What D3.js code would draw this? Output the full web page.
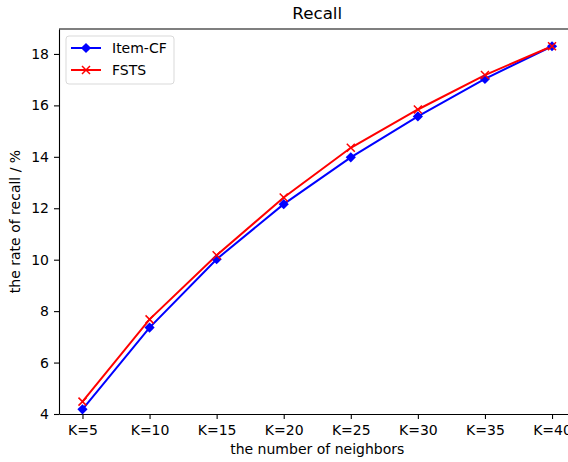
<!DOCTYPE html>
<html lang="en">
<head>
<meta charset="UTF-8">
<title>Recall</title>
<script src="https://d3js.org/d3.v7.min.js"></script>
<style>
  body { margin: 0; padding: 0; background: #fff; }
  svg { display: block; font-family: "DejaVu Sans", sans-serif; }
  .axis text { font-family: "DejaVu Sans", sans-serif; font-size: 14px; fill: #000; }
  .axis path, .axis line { stroke: #000; stroke-width: 1.1px; }
</style>
</head>
<body>
<div id="chart"></div>
<script>
// data
const kLabels = ["K=5", "K=10", "K=15", "K=20", "K=25", "K=30", "K=35", "K=40"];
const itemCF = [4.18, 7.36, 10.02, 12.16, 13.98, 15.57, 17.03, 18.3];
const fsts = [4.48, 7.68, 10.17, 12.42, 14.35, 15.84, 17.18, 18.3];
const yTicks = [4, 6, 8, 10, 12, 14, 16, 18];

const width = 568, height = 462;
const plotLeft = 59, plotTop = 29, plotRight = 575.5, plotBottom = 414;

const svg = d3.select("#chart").append("svg")
    .attr("width", width)
    .attr("height", height);

const x = d3.scalePoint()
    .domain(kLabels)
    .range([plotLeft, plotRight])
    .padding(0.35);

const y = d3.scaleLinear()
    .domain([4, 18.97])
    .range([plotBottom, plotTop]);

// axes
svg.append("g")
    .attr("class", "axis")
    .attr("transform", `translate(0,${plotBottom})`)
    .call(d3.axisBottom(x).tickSize(5).tickPadding(4).tickSizeOuter(0))
    .selectAll("text").attr("dy", "0.85em");

svg.append("g")
    .attr("class", "axis")
    .attr("transform", `translate(${plotLeft},0)`)
    .call(d3.axisLeft(y).tickValues(yTicks).tickSize(5).tickPadding(5).tickSizeOuter(0));

// top spine (right spine falls outside the picture)
svg.append("line")
    .attr("x1", plotLeft).attr("x2", plotRight)
    .attr("y1", plotTop).attr("y2", plotTop)
    .attr("stroke", "#000").attr("stroke-width", 1.1);

// lines
const line = d3.line()
    .x((d, i) => x(kLabels[i]))
    .y(d => y(d));

svg.append("path")
    .datum(itemCF)
    .attr("fill", "none")
    .attr("stroke", "#0000ff")
    .attr("stroke-width", 2)
    .attr("d", line);

svg.append("path")
    .datum(fsts)
    .attr("fill", "none")
    .attr("stroke", "#ff0000")
    .attr("stroke-width", 2)
    .attr("d", line);

const diamond = d3.symbol().type(d3.symbolSquare).size(52);
const cross = "M-4,-4L4,4M-4,4L4,-4";

svg.selectAll(".dia")
    .data(itemCF)
    .enter().append("path")
    .attr("class", "dia")
    .attr("d", diamond)
    .attr("fill", "#0000ff")
    .attr("transform", (d, i) => `translate(${x(kLabels[i])},${y(d)}) rotate(45)`);

svg.selectAll(".crs")
    .data(fsts)
    .enter().append("path")
    .attr("class", "crs")
    .attr("d", cross)
    .attr("stroke", "#ff0000")
    .attr("stroke-width", 1.5)
    .attr("fill", "none")
    .attr("transform", (d, i) => `translate(${x(kLabels[i])},${y(d)})`);

// title and labels
svg.append("text")
    .attr("x", (plotLeft + plotRight) / 2)
    .attr("y", 19)
    .attr("text-anchor", "middle")
    .attr("font-size", 16.7)
    .text("Recall");

svg.append("text")
    .attr("x", (plotLeft + plotRight) / 2)
    .attr("y", 454)
    .attr("text-anchor", "middle")
    .attr("font-size", 14)
    .text("the number of neighbors");

svg.append("text")
    .attr("transform", `translate(20,${(plotTop + plotBottom) / 2}) rotate(-90)`)
    .attr("text-anchor", "middle")
    .attr("font-size", 14)
    .text("the rate of recall / %");

// legend
const legend = svg.append("g").attr("transform", "translate(66,36)");
legend.append("rect")
    .attr("width", 108).attr("height", 48)
    .attr("rx", 3)
    .attr("fill", "#fff").attr("fill-opacity", 0.8)
    .attr("stroke", "#d9d9d9");

const entries = [
    { name: "Item-CF", color: "#0000ff", mark: "dia" },
    { name: "FSTS", color: "#ff0000", mark: "crs" }
];
entries.forEach((e, i) => {
    const g = legend.append("g").attr("transform", `translate(0,${12 + i * 22})`);
    g.append("line")
        .attr("x1", 5).attr("x2", 35)
        .attr("stroke", e.color).attr("stroke-width", 2);
    if (e.mark === "dia") {
        g.append("path").attr("d", diamond).attr("fill", e.color)
            .attr("transform", "translate(20,0) rotate(45)");
    } else {
        g.append("path").attr("d", cross).attr("stroke", e.color)
            .attr("stroke-width", 1.5).attr("fill", "none")
            .attr("transform", "translate(20,0)");
    }
    g.append("text")
        .attr("x", 46).attr("y", 0).attr("dy", "0.35em")
        .attr("font-size", 14)
        .text(e.name);
});
</script>
</body>
</html>
